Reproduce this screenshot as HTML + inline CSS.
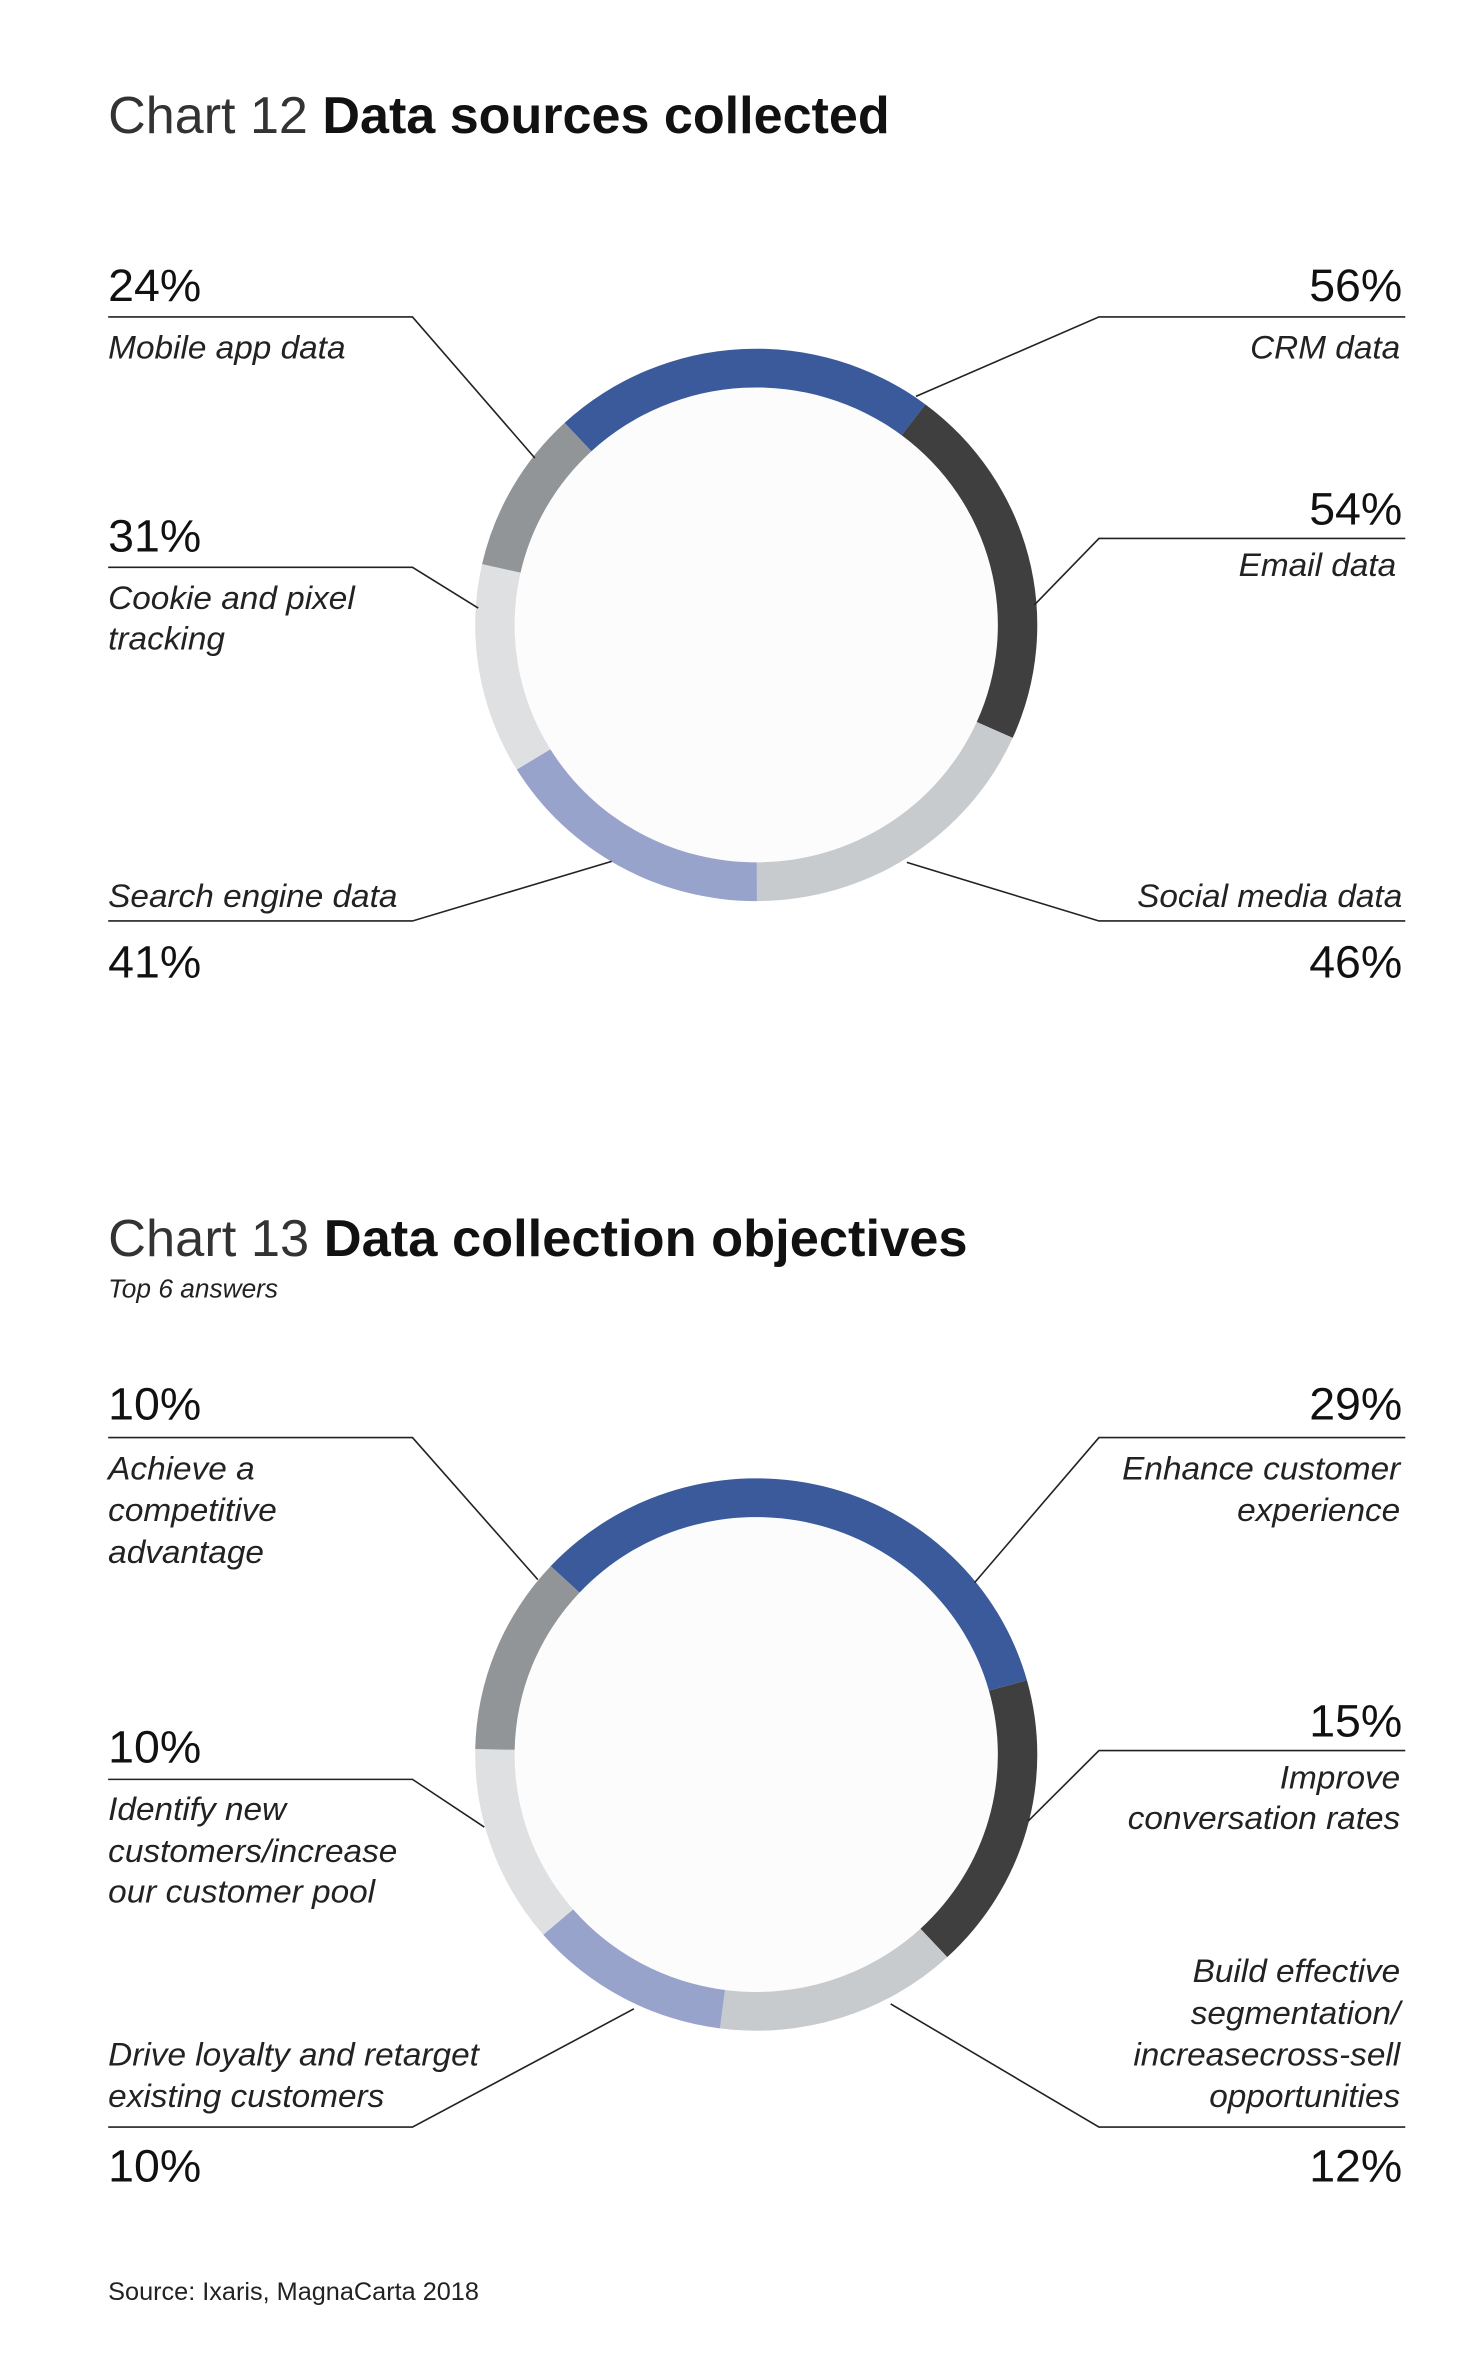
<!DOCTYPE html>
<html><head><meta charset="utf-8"><style>
html,body{margin:0;padding:0;background:#fff;}
svg{display:block;font-family:"Liberation Sans",sans-serif;}
.pct{font-size:46px;fill:#111;}
.lab{font-size:33px;font-style:italic;fill:#222;}
.ln{stroke:#222;stroke-width:1.6;fill:none;}
</style></head><body>
<svg id="chart" width="1483" height="2356" viewBox="0 0 1483 2356">
<rect width="1483" height="2356" fill="#fff"/>
<g transform="scale(1.011,0.9935)">
<text x="107" y="134" font-size="52" textLength="773" lengthAdjust="spacingAndGlyphs" fill="#111"><tspan font-weight="normal" fill="#333">Chart 12 </tspan><tspan font-weight="bold">Data sources collected</tspan></text>
<g id="donut1"></g>
<g>
<polyline class="ln" points="107,319 408,319 529,461"/>
<text class="pct" x="107" y="303">24%</text>
<text class="lab" x="107" y="361">Mobile app data</text>
<polyline class="ln" points="107,571 408,571 473,612"/>
<text class="pct" x="107" y="555">31%</text>
<text class="lab" x="107" y="613">Cookie and pixel</text>
<text class="lab" x="107" y="654">tracking</text>
<polyline class="ln" points="107,927 408,927 605,867"/>
<text class="lab" x="107" y="913">Search engine data</text>
<text class="pct" x="107" y="984">41%</text>
<polyline class="ln" points="1390,319 1087,319 906,399"/>
<text class="pct" x="1387" y="303" text-anchor="end">56%</text>
<text class="lab" x="1385" y="361" text-anchor="end">CRM data</text>
<polyline class="ln" points="1390,542 1087,542 1023,609"/>
<text class="pct" x="1387" y="528" text-anchor="end">54%</text>
<text class="lab" x="1381" y="580" text-anchor="end">Email data</text>
<polyline class="ln" points="1390,927 1087,927 897,868"/>
<text class="lab" x="1387" y="913" text-anchor="end">Social media data</text>
<text class="pct" x="1387" y="984" text-anchor="end">46%</text>
</g>
<text x="107" y="1264" font-size="52" textLength="850" lengthAdjust="spacingAndGlyphs" fill="#111"><tspan fill="#333">Chart 13 </tspan><tspan font-weight="bold">Data collection objectives</tspan></text>
<text x="107" y="1306" font-size="26" font-style="italic" fill="#222">Top 6 answers</text>
<g id="donut2"></g>
<g>
<polyline class="ln" points="107,1447 408,1447 532,1590"/>
<text class="pct" x="107" y="1429">10%</text>
<text class="lab" x="107" y="1489">Achieve a</text>
<text class="lab" x="107" y="1531">competitive</text>
<text class="lab" x="107" y="1573">advantage</text>
<polyline class="ln" points="107,1791 408,1791 479,1839"/>
<text class="pct" x="107" y="1774">10%</text>
<text class="lab" x="107" y="1832">Identify new</text>
<text class="lab" x="107" y="1874">customers/increase</text>
<text class="lab" x="107" y="1915">our customer pool</text>
<polyline class="ln" points="107,2141 408,2141 627,2022"/>
<text class="lab" x="107" y="2079">Drive loyalty and retarget</text>
<text class="lab" x="107" y="2121">existing customers</text>
<text class="pct" x="107" y="2196">10%</text>
<polyline class="ln" points="1390,1447 1087,1447 964,1593"/>
<text class="pct" x="1387" y="1429" text-anchor="end">29%</text>
<text class="lab" x="1385" y="1489" text-anchor="end">Enhance customer</text>
<text class="lab" x="1385" y="1531" text-anchor="end">experience</text>
<polyline class="ln" points="1390,1762 1087,1762 1017,1833"/>
<text class="pct" x="1387" y="1748" text-anchor="end">15%</text>
<text class="lab" x="1385" y="1800" text-anchor="end">Improve</text>
<text class="lab" x="1385" y="1841" text-anchor="end">conversation rates</text>
<polyline class="ln" points="1390,2141 1087,2141 881,2017"/>
<text class="lab" x="1385" y="1995" text-anchor="end">Build effective</text>
<text class="lab" x="1385" y="2037" text-anchor="end">segmentation/</text>
<text class="lab" x="1385" y="2079" text-anchor="end">increasecross-sell</text>
<text class="lab" x="1385" y="2121" text-anchor="end">opportunities</text>
<text class="pct" x="1387" y="2196" text-anchor="end">12%</text>
</g>
<text x="107" y="2315" font-size="25" fill="#222">Source: Ixaris, MagnaCarta 2018</text>
</g>
</svg>
<script>
const sourceCategories = ["CRM data","Email data","Social media data","Search engine data","Cookie and pixel tracking","Mobile app data"];
const sourceValues = [56,54,46,41,31,24];
const objectiveCategories = ["Enhance customer experience","Improve conversation rates","Build effective segmentation","Drive loyalty","Identify new customers","Achieve a competitive advantage"];
const objectiveValues = [29,15,12,10,10,10];
const sliceColors = ["#3a5a9b","#3f3f40","#c8cbce","#98a3cc","#dfe0e2","#919598"];
const NS="http://www.w3.org/2000/svg";
function pt(cx,cy,r,deg){const a=deg*Math.PI/180;return [cx+r*Math.sin(a),cy-r*Math.cos(a)];}
function drawDonut(gid,cats,vals,cx,cy,startDeg){
  const g=document.getElementById(gid);
  const R=278,r=239;
  const bg=document.createElementNS(NS,"circle");
  
  
  bg.setAttribute("cx",cx);bg.setAttribute("cy",cy);bg.setAttribute("r",r);bg.setAttribute("fill","#fcfcfc");
  g.appendChild(bg);
  const total=vals.reduce((a,b)=>a+b,0);
  let ang=startDeg;
  vals.forEach((v,i)=>{
    const sweep=v/total*360, a0=ang, a1=ang+sweep; ang=a1;
    const large=sweep>180?1:0;
    const p0=pt(cx,cy,R,a0),p1=pt(cx,cy,R,a1),q1=pt(cx,cy,r,a1),q0=pt(cx,cy,r,a0);
    const p=document.createElementNS(NS,"path");
    
    
    p.setAttribute("d",`M${p0[0]},${p0[1]} A${R},${R} 0 ${large} 1 ${p1[0]},${p1[1]} L${q1[0]},${q1[1]} A${r},${r} 0 ${large} 0 ${q0[0]},${q0[1]} Z`);
    p.setAttribute("fill",sliceColors[i%sliceColors.length]);
    g.appendChild(p);
  });
}
drawDonut("donut1",sourceCategories,sourceValues,748,629,-43);
drawDonut("donut2",objectiveCategories,objectiveValues,748,1766,-47);
</script>
</body></html>
